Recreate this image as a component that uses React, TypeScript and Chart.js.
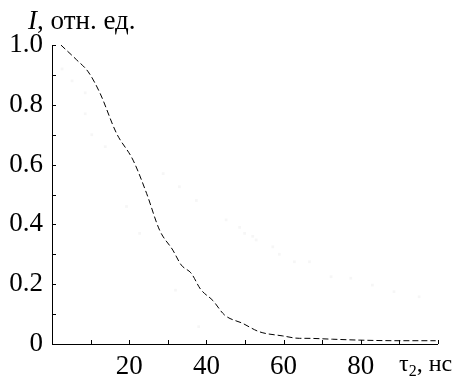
import React, { useEffect, useRef } from "react";
import { Chart, registerables } from "chart.js";

Chart.register(...registerables);

// Main dashed curve: tau2 (ns) vs relative intensity
const tauValues = [2.3, 6.4, 9.4, 12.4, 16.7, 21, 24.5, 27.9, 31.3, 33.5, 36.1, 38.5, 41.7, 44.7, 49.4, 53.7, 59.8, 64.1, 65.8, 72.7, 79.6, 89.9, 99.4];
const intensityValues = [1.0, 0.95, 0.91, 0.84, 0.705, 0.615, 0.504, 0.38, 0.314, 0.264, 0.236, 0.183, 0.145, 0.097, 0.069, 0.041, 0.027, 0.019, 0.019, 0.016, 0.013, 0.011, 0.011];

// Faint background points (barely visible in the reference)
const faintTau = [2.6, 5.2, 8.6, 8.6, 10.3, 13.8, 19.3, 22.7, 28.8, 32, 33, 37.4, 38, 45.1, 48.6, 49.9, 52, 52.9, 57.2, 58.9, 62.8, 66.7, 72.3, 77.4, 83, 88.6, 95.1];
const faintIntensity = [0.92, 0.88, 0.84, 0.77, 0.7, 0.66, 0.46, 0.37, 0.57, 0.18, 0.526, 0.48, 0.058, 0.415, 0.39, 0.37, 0.36, 0.348, 0.325, 0.3, 0.275, 0.275, 0.225, 0.22, 0.197, 0.175, 0.158];

const xLabeled = [20, 40, 60, 80];
const yTickLabels = ["0", "0.2", "0.4", "0.6", "0.8", "1.0"];
const yTitleItalic = "I";
const yTitleRest = ", отн. ед.";
const xTitleMain = "τ";
const xTitleSub = "2";
const xTitleRest = ", нс";

const FONT = "'Liberation Serif', 'Times New Roman', serif";

const axesPlugin = {
  id: "customAxes",
  afterDraw(chart: any) {
    const { ctx, chartArea, scales } = chart;
    const xs = scales.x;
    const ys = scales.y;
    ctx.save();
    ctx.strokeStyle = "#000";
    ctx.lineWidth = 1;
    ctx.beginPath();
    ctx.moveTo(chartArea.left + 0.5, chartArea.top);
    ctx.lineTo(chartArea.left + 0.5, chartArea.bottom + 0.5);
    ctx.lineTo(chartArea.right, chartArea.bottom + 0.5);
    for (let v = 0; v <= 100; v += 10) {
      const px = Math.round(xs.getPixelForValue(v)) + 0.5;
      ctx.moveTo(px, chartArea.bottom);
      ctx.lineTo(px, chartArea.bottom - 4);
    }
    for (let i = 0; i <= 10; i++) {
      const py = Math.round(ys.getPixelForValue(i / 10)) + 0.5;
      ctx.moveTo(chartArea.left, py);
      ctx.lineTo(chartArea.left + 4, py);
    }
    ctx.stroke();

    ctx.fillStyle = "#000";
    ctx.textBaseline = "alphabetic";
    ctx.textAlign = "left";
    ctx.font = `italic 27px ${FONT}`;
    let x = 28;
    ctx.fillText(yTitleItalic, x, 29);
    x += ctx.measureText(yTitleItalic).width;
    ctx.font = `27px ${FONT}`;
    ctx.fillText(yTitleRest, x, 29);

    let tx = 399;
    ctx.font = `24px ${FONT}`;
    ctx.fillText(xTitleMain, tx, 371);
    tx += ctx.measureText(xTitleMain).width;
    ctx.font = `16px ${FONT}`;
    ctx.fillText(xTitleSub, tx, 376);
    tx += ctx.measureText(xTitleSub).width;
    ctx.font = `24px ${FONT}`;
    ctx.fillText(xTitleRest, tx, 371);
    ctx.restore();
  },
};

export default function App() {
  const canvasRef = useRef<HTMLCanvasElement | null>(null);

  useEffect(() => {
    if (!canvasRef.current) return;
    const chart = new Chart(canvasRef.current, {
      type: "scatter",
      data: {
        datasets: [
          {
            label: "faint",
            data: faintTau.map((t, i) => ({ x: t, y: faintIntensity[i] })),
            pointRadius: 2,
            pointStyle: "rect",
            backgroundColor: "rgba(0,0,0,0.035)",
            borderWidth: 0,
            showLine: false,
          },
          {
            label: "I",
            data: tauValues.map((t, i) => ({ x: t, y: intensityValues[i] })),
            showLine: true,
            borderColor: "#000",
            borderWidth: 1,
            borderDash: [6, 3],
            pointRadius: 0,
            cubicInterpolationMode: "monotone",
            fill: false,
          },
        ],
      },
      options: {
        animation: false,
        responsive: false,
        maintainAspectRatio: false,
        layout: { padding: { left: 0, top: 45, right: 20, bottom: 0 } },
        plugins: {
          legend: { display: false },
          tooltip: { enabled: false },
        },
        scales: {
          x: {
            type: "linear",
            min: 0,
            max: 100,
            grid: { display: false, drawTicks: false },
            border: { display: false },
            ticks: {
              stepSize: 10,
              autoSkip: false,
              maxRotation: 0,
              padding: 7,
              color: "#000",
              font: { family: FONT, size: 27 },
              callback: (v: any) => (xLabeled.includes(Number(v)) ? String(v) : ""),
            },
            afterFit: (s: any) => {
              s.height = 39;
            },
          },
          y: {
            min: 0,
            max: 1,
            grid: { display: false, drawTicks: false },
            border: { display: false },
            ticks: {
              stepSize: 0.2,
              padding: 9,
              color: "#000",
              font: { family: FONT, size: 27 },
              callback: (v: any) => yTickLabels[Math.round(Number(v) * 5)] ?? "",
            },
            afterFit: (s: any) => {
              s.width = 52;
            },
          },
        },
      },
      plugins: [axesPlugin],
    });
    return () => chart.destroy();
  }, []);

  return (
    <div style={{ position: "absolute", left: 0, top: 0, width: 458, height: 383, background: "#fff" }}>
      <canvas ref={canvasRef} width={458} height={383} style={{ display: "block" }} />
    </div>
  );
}
